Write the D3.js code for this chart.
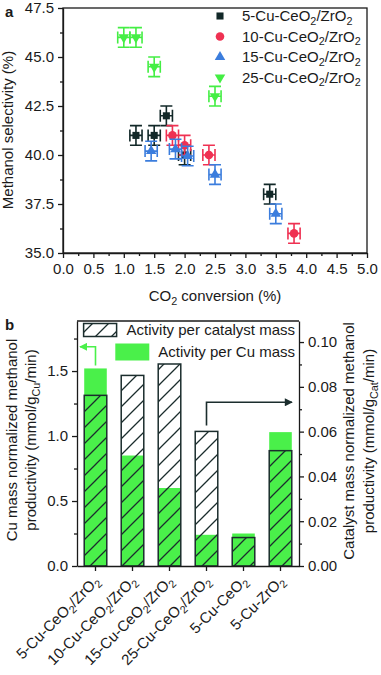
<!DOCTYPE html>
<html>
<head>
  <script src="https://d3js.org/d3.v7.min.js"></script>
  <style>
    html, body { margin: 0; padding: 0; background: white; }
    svg { display: block; font-family: "Liberation Sans", Arial, sans-serif; }
    .axis text { font-size: 15px; fill: #1a1a1a; }
    .axis path, .axis line { stroke: #1a1a1a; stroke-width: 1.3; }
  </style>
</head>
<body>
<svg width="381" height="675"></svg>
<script>
// ---- panel a data: CO2 conversion (%) vs methanol selectivity (%)
const conv5  = [1.2, 1.5, 1.7, 2.0, 3.4];
const sel5   = [41.0, 41.0, 42.0, 40.0, 38.0];
const conv10 = [1.8, 2.0, 2.4, 3.8];
const sel10  = [41.0, 40.5, 40.0, 36.0];
const conv15 = [1.45, 1.85, 2.05, 2.5, 3.5];
const sel15  = [40.2, 40.3, 39.95, 39.0, 37.0];
const conv25 = [1.0, 1.2, 1.5, 2.5];
const sel25  = [46.0, 46.0, 44.5, 43.0];
const xErr = 0.1, yErr = 0.5;
const xTicksA = [0, 0.5, 1, 1.5, 2, 2.5, 3, 3.5, 4, 4.5, 5];
const yTicksA = [35, 37.5, 40, 42.5, 45, 47.5];

// ---- panel b data
const cats = ["5-Cu-CeO_{2}/ZrO_{2}", "10-Cu-CeO_{2}/ZrO_{2}", "15-Cu-CeO_{2}/ZrO_{2}",
              "25-Cu-CeO_{2}/ZrO_{2}", "5-Cu-CeO_{2}", "5-Cu-ZrO_{2}"];
const cuMass  = [1.52, 0.85, 0.60, 0.24, 0.25, 1.03];        // mmol/gCu/min (left)
const catMass = [0.0762, 0.0851, 0.0902, 0.0601, 0.0127, 0.0515]; // mmol/gCat/min (right)
const yTicksL = [0, 0.5, 1.0, 1.5];
const yTicksR = [0, 0.02, 0.04, 0.06, 0.08, 0.10];

const ink = "#1a1a1a";
const barInk = "#1b2d2d";
const green = "#4af04a";

const svg = d3.select("svg");

// text with _{sub} parts
function rich(sel, str) {
  const parts = str.split(/_\{([^}]*)\}/);
  let shifted = false;
  parts.forEach((p, i) => {
    if (i % 2 === 1) {
      sel.append("tspan").attr("dy", 3.5).attr("font-size", "72%").text(p);
      shifted = true;
    } else if (p) {
      const t = sel.append("tspan").text(p);
      if (shifted) { t.attr("dy", -3.5); shifted = false; }
    }
  });
  return sel;
}

// ================= panel a =================
const ax = d3.scaleLinear().domain([0, 5]).range([63, 367]);
const ay = d3.scaleLinear().domain([35, 47.5]).range([253, 8]);
const gA = svg.append("g");

gA.append("rect").attr("x", 63).attr("y", 8).attr("width", 304).attr("height", 245)
  .attr("fill", "none").attr("stroke", ink).attr("stroke-width", 1.3);

gA.append("g").attr("class", "axis").attr("transform", "translate(0,253)")
  .call(d3.axisBottom(ax).tickValues(xTicksA).tickFormat(d3.format(".1f")).tickSize(5).tickPadding(5).tickSizeOuter(0));
gA.append("g").attr("class", "axis").attr("transform", "translate(0,253)")
  .call(d3.axisBottom(ax).tickValues(d3.range(0.25, 5, 0.5)).tickFormat("").tickSize(3))
  .select(".domain").remove();
gA.append("g").attr("class", "axis").attr("transform", "translate(63,0)")
  .call(d3.axisLeft(ay).tickValues(yTicksA).tickFormat(d3.format(".1f")).tickSize(5).tickPadding(4).tickSizeOuter(0));
gA.append("g").attr("class", "axis").attr("transform", "translate(63,0)")
  .call(d3.axisLeft(ay).tickValues(d3.range(36.25, 47.5, 2.5)).tickFormat("").tickSize(3))
  .select(".domain").remove();

rich(gA.append("text").attr("x", 215).attr("y", 301).attr("text-anchor", "middle")
  .attr("font-size", 15).attr("fill", ink), "CO_{2} conversion (%)");
gA.append("text").attr("transform", "translate(13,130) rotate(-90)").attr("text-anchor", "middle")
  .attr("font-size", 15).attr("fill", ink).text("Methanol selectivity (%)");
gA.append("text").attr("x", 5).attr("y", 17).attr("font-size", 15).attr("font-weight", "bold")
  .attr("fill", ink).text("a");

const series = [
  { name: "5-Cu-CeO_{2}/ZrO_{2}",  conv: conv5,  sel: sel5,  color: "#122828", sym: d3.symbolSquare,   size: 50, rot: 0 },
  { name: "10-Cu-CeO_{2}/ZrO_{2}", conv: conv10, sel: sel10, color: "#ef3152", sym: d3.symbolCircle,   size: 58, rot: 0 },
  { name: "15-Cu-CeO_{2}/ZrO_{2}", conv: conv15, sel: sel15, color: "#3b7ddd", sym: d3.symbolTriangle, size: 48, rot: 0 },
  { name: "25-Cu-CeO_{2}/ZrO_{2}", conv: conv25, sel: sel25, color: "#44ee44", sym: d3.symbolTriangle, size: 48, rot: 180 }
];

series.forEach(s => {
  const pts = s.conv.map((c, i) => ({ x: c, y: s.sel[i] }));
  const g = gA.append("g").selectAll("g").data(pts).join("g");
  const capY = 6, capX = 6;
  // x error bar
  g.append("path").attr("fill", "none").attr("stroke", s.color).attr("stroke-width", 1.6)
    .attr("d", d => {
      const x0 = ax(d.x - xErr), x1 = ax(d.x + xErr), yy = ay(d.y);
      return `M${x0},${yy}H${x1}M${x0},${yy - capX}V${yy + capX}M${x1},${yy - capX}V${yy + capX}`;
    });
  // y error bar
  g.append("path").attr("fill", "none").attr("stroke", s.color).attr("stroke-width", 1.6)
    .attr("d", d => {
      const y0 = ay(d.y - yErr), y1 = ay(d.y + yErr), xx = ax(d.x);
      return `M${xx},${y0}V${y1}M${xx - capY},${y0}H${xx + capY}M${xx - capY},${y1}H${xx + capY}`;
    });
  g.append("path").attr("d", d3.symbol(s.sym, s.size)).attr("fill", s.color)
    .attr("transform", d => `translate(${ax(d.x)},${ay(d.y)}) rotate(${s.rot})`);
});

// legend a
const legA = gA.append("g");
series.forEach((s, i) => {
  const cy = 16 + i * 20.5;
  legA.append("path").attr("d", d3.symbol(s.sym, s.size)).attr("fill", s.color)
    .attr("transform", `translate(220,${cy}) rotate(${s.rot})`);
  rich(legA.append("text").attr("x", 242).attr("y", cy + 5).attr("font-size", 15).attr("fill", ink), s.name);
});

// ================= panel b =================
const gB = svg.append("g");
const bx = d3.scaleBand().domain(cats).range([77, 299]).paddingInner(0.39).paddingOuter(0.195);
const byL = d3.scaleLinear().domain([0, 1.885]).range([566, 321]);
const byR = d3.scaleLinear().domain([0, 0.1094]).range([566, 321]);

const defs = svg.append("defs");
const pat = defs.append("pattern").attr("id", "hatch").attr("patternUnits", "userSpaceOnUse")
  .attr("width", 16).attr("height", 16);
pat.append("path").attr("d", "M0,16L16,0M-4,4L4,-4M12,20L20,12")
  .attr("stroke", barInk).attr("stroke-width", 1.3);

const rows = cats.map((c, i) => ({ c, cu: cuMass[i], cat: catMass[i] }));

gB.append("g").selectAll("rect").data(rows).join("rect")
  .attr("x", d => bx(d.c)).attr("width", bx.bandwidth())
  .attr("y", d => byL(d.cu)).attr("height", d => byL(0) - byL(d.cu))
  .attr("fill", green);

gB.append("g").selectAll("rect").data(rows).join("rect")
  .attr("x", d => bx(d.c)).attr("width", bx.bandwidth())
  .attr("y", d => byR(d.cat)).attr("height", d => byR(0) - byR(d.cat))
  .attr("fill", "url(#hatch)").attr("stroke", barInk).attr("stroke-width", 1.5);

// frame top
gB.append("line").attr("x1", 77).attr("x2", 299).attr("y1", 321).attr("y2", 321)
  .attr("stroke", ink).attr("stroke-width", 1.3);

gB.append("g").attr("class", "axis").attr("transform", "translate(0,566)")
  .call(d3.axisBottom(bx).tickFormat("").tickSize(5).tickSizeOuter(0));
gB.append("g").attr("class", "axis").attr("transform", "translate(77,0)")
  .call(d3.axisLeft(byL).tickValues(yTicksL).tickFormat(d3.format(".1f")).tickSize(5).tickPadding(4).tickSizeOuter(0));
gB.append("g").attr("class", "axis").attr("transform", "translate(77,0)")
  .call(d3.axisLeft(byL).tickValues([0.25, 0.75, 1.25, 1.75]).tickFormat("").tickSize(3))
  .select(".domain").remove();
gB.append("g").attr("class", "axis").attr("transform", "translate(299,0)")
  .call(d3.axisRight(byR).tickValues(yTicksR).tickFormat(d3.format(".2f")).tickSize(5).tickPadding(4).tickSizeOuter(0));
gB.append("g").attr("class", "axis").attr("transform", "translate(299,0)")
  .call(d3.axisRight(byR).tickValues([0.01, 0.03, 0.05, 0.07, 0.09]).tickFormat("").tickSize(3))
  .select(".domain").remove();

// rotated category labels
cats.forEach(c => {
  const cx = bx(c) + bx.bandwidth() / 2;
  rich(gB.append("text").attr("transform", `translate(${cx + 5},${582}) rotate(-45)`)
    .attr("text-anchor", "end").attr("font-size", 15).attr("fill", ink), c);
});

// axis titles
const tL = gB.append("text").attr("transform", "translate(0,440) rotate(-90)")
  .attr("text-anchor", "middle").attr("font-size", 15).attr("fill", ink);
tL.append("tspan").attr("x", 0).attr("y", 16.5).text("Cu mass normalized methanol");
rich(tL.append("tspan").attr("x", 0).attr("y", 36), "productivity (mmol/g_{Cu}/min)");

const tR = gB.append("text").attr("transform", "translate(0,441) rotate(-90)")
  .attr("text-anchor", "middle").attr("font-size", 15).attr("fill", ink);
tR.append("tspan").attr("x", 0).attr("y", 354).text("Catalyst mass normalized methanol");
rich(tR.append("tspan").attr("x", 0).attr("y", 374), "productivity (mmol/g_{Cat}/min)");

gB.append("text").attr("x", 5).attr("y", 330).attr("font-size", 15).attr("font-weight", "bold")
  .attr("fill", ink).text("b");

// legend b
const legB = gB.append("g");
const lt1 = legB.append("text").attr("x", 295).attr("y", 335).attr("text-anchor", "end")
  .attr("font-size", 15).attr("fill", ink).text("Activity per catalyst mass");
const lt2 = legB.append("text").attr("x", 295).attr("y", 357).attr("text-anchor", "end")
  .attr("font-size", 15).attr("fill", ink).text("Activity per Cu mass");
const b1 = lt1.node().getBBox(), b2 = lt2.node().getBBox();
legB.append("rect").attr("x", b1.x - 43).attr("y", 323.5).attr("width", 33).attr("height", 13)
  .attr("fill", "url(#hatch)").attr("stroke", barInk).attr("stroke-width", 1.5);
legB.append("rect").attr("x", b2.x - 43).attr("y", 343.5).attr("width", 34).attr("height", 17)
  .attr("fill", green);

// arrows pointing to the axis each series belongs to
defs.append("marker").attr("id", "headG").attr("viewBox", "0 0 10 10").attr("refX", 9).attr("refY", 5)
  .attr("markerWidth", 5).attr("markerHeight", 5).attr("orient", "auto").attr("markerUnits", "strokeWidth")
  .append("path").attr("d", "M0,0L10,5L0,10Z").attr("fill", green);
defs.append("marker").attr("id", "headK").attr("viewBox", "0 0 10 10").attr("refX", 9).attr("refY", 5)
  .attr("markerWidth", 5.5).attr("markerHeight", 5).attr("orient", "auto").attr("markerUnits", "strokeWidth")
  .append("path").attr("d", "M0,0L10,5L0,10Z").attr("fill", barInk);

const c0 = bx(cats[0]) + bx.bandwidth() / 2;
gB.append("path").attr("fill", "none").attr("stroke", green).attr("stroke-width", 1.6)
  .attr("marker-end", "url(#headG)")
  .attr("d", `M${c0},${byL(cuMass[0]) - 3}V${byL(1.687)}H${77 + 3}`);
const c3 = bx(cats[3]) + bx.bandwidth() / 2;
gB.append("path").attr("fill", "none").attr("stroke", barInk).attr("stroke-width", 1.6)
  .attr("marker-end", "url(#headK)")
  .attr("d", `M${c3},${byR(catMass[3]) - 6}V${byR(0.0731)}H${299 - 7}`);
</script>
</body>
</html>
